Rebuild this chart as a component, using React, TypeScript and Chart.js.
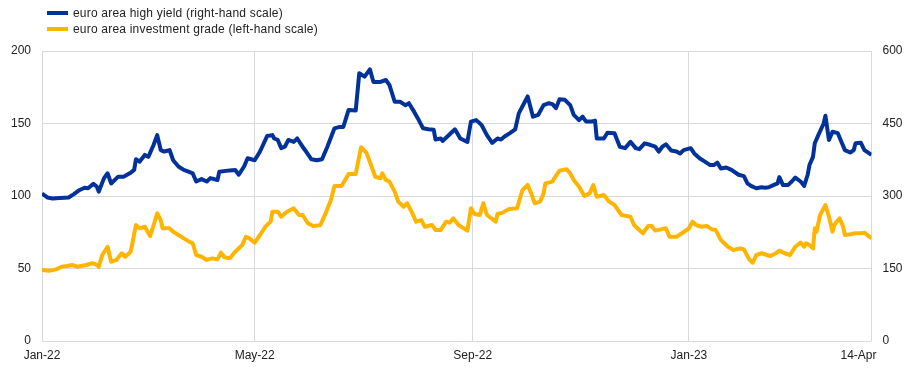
import React, { useEffect, useRef } from "react";
import { Chart, registerables } from "chart.js";

Chart.register(...registerables);

// x values: days since 1 Jan 2022
const xTickDays = [0, 120, 243, 365, 468];
const xTickLabels = ["Jan-22", "May-22", "Sep-22", "Jan-23", "14-Apr"];

const leftTicks = [0, 50, 100, 150, 200];
const rightTicks = [0, 150, 300, 450, 600];

const seriesNames = [
  "euro area high yield (right-hand scale)",
  "euro area investment grade (left-hand scale)",
];

const hyDay = [0, 3, 6, 10, 15, 18, 21, 24, 26, 29, 31, 32, 35, 37, 39, 43, 46, 50, 52, 53, 55, 58, 60, 63, 65, 67, 69, 72, 74, 77, 80, 83, 85, 87, 90, 93, 95, 99, 100, 106, 109, 111, 114, 116, 120, 123, 127, 130, 131, 133, 135, 137, 139, 142, 144, 147, 149, 152, 155, 158, 161, 165, 168, 170, 173, 177, 179, 182, 185, 187, 191, 194, 196, 199, 202, 205, 207, 210, 212, 215, 218, 221, 222, 225, 226, 229, 233, 236, 240, 242, 245, 248, 251, 254, 257, 259, 261, 264, 267, 269, 272, 274, 277, 280, 283, 286, 288, 290, 292, 295, 298, 300, 303, 305, 307, 310, 312, 313, 317, 319, 323, 326, 329, 332, 335, 337, 340, 343, 346, 348, 350, 352, 355, 358, 360, 362, 366, 368, 371, 374, 377, 379, 381, 383, 386, 389, 393, 396, 398, 400, 403, 406, 408, 410, 413, 415, 416, 418, 421, 423, 425, 428, 430, 432, 433, 435, 436, 438, 441, 442, 444, 446, 449, 451, 453, 456, 458, 459, 462, 464, 468];
const hyValue = [305, 297, 295, 296, 297, 304, 312, 317, 316, 325, 319, 309, 337, 347, 326, 340, 340, 348, 354, 376, 371, 385, 381, 406, 426, 395, 392, 395, 374, 361, 354, 350, 347, 330, 335, 330, 337, 333, 350, 353, 354, 344, 361, 378, 374, 392, 424, 426, 419, 416, 399, 402, 416, 412, 419, 402, 392, 376, 374, 376, 402, 440, 443, 443, 478, 477, 554, 547, 562, 536, 536, 540, 530, 495, 495, 488, 492, 474, 461, 440, 438, 437, 417, 419, 414, 424, 438, 419, 412, 454, 457, 447, 426, 410, 419, 417, 423, 430, 438, 471, 492, 506, 464, 468, 488, 492, 490, 482, 500, 499, 488, 468, 457, 464, 454, 454, 456, 419, 419, 431, 430, 402, 399, 412, 399, 397, 409, 406, 402, 392, 402, 407, 394, 392, 388, 395, 399, 388, 378, 371, 364, 364, 369, 357, 359, 354, 344, 341, 326, 321, 316, 318, 317, 318, 323, 326, 339, 323, 323, 330, 338, 330, 321, 344, 364, 381, 409, 426, 450, 466, 416, 433, 430, 412, 395, 390, 395, 409, 410, 395, 385];

const igDay = [0, 4, 8, 11, 14, 17, 20, 22, 25, 28, 30, 32, 34, 37, 39, 42, 45, 47, 50, 51, 53, 55, 58, 61, 63, 65, 67, 68, 72, 74, 77, 80, 83, 85, 87, 90, 93, 96, 99, 101, 103, 106, 109, 113, 115, 117, 120, 123, 126, 129, 130, 133, 135, 138, 142, 145, 147, 150, 153, 157, 160, 163, 165, 169, 173, 177, 180, 183, 186, 188, 191, 192, 194, 196, 199, 201, 204, 206, 209, 211, 214, 216, 220, 222, 225, 228, 230, 232, 235, 240, 242, 244, 247, 249, 251, 256, 257, 260, 263, 268, 271, 274, 276, 278, 281, 283, 284, 288, 289, 292, 296, 298, 300, 303, 306, 309, 311, 313, 317, 320, 323, 327, 332, 334, 337, 339, 342, 344, 346, 349, 352, 354, 358, 361, 365, 367, 369, 372, 375, 378, 380, 383, 387, 390, 394, 396, 399, 401, 403, 406, 409, 411, 414, 416, 419, 422, 425, 428, 430, 431, 433, 435, 436, 437, 439, 441, 442, 444, 446, 447, 450, 452, 453, 456, 459, 462, 464, 468];
const igValue = [49, 48.5, 49.4, 51.2, 51.7, 52.4, 51.2, 51.7, 52.4, 53.6, 53.1, 51.2, 59.3, 65, 54.7, 55.9, 60.5, 58.1, 61.6, 67.4, 80, 77.7, 78.8, 72.4, 80, 88, 83.4, 77.7, 77.7, 75.4, 73.1, 70.8, 68.5, 67.4, 59.3, 58.1, 55.9, 57, 56.3, 60.9, 57.7, 57, 61.6, 66.2, 71.9, 70.8, 67.8, 73.1, 78.8, 82.3, 89.2, 89.2, 85.7, 89, 91.5, 86.9, 86.9, 81.2, 79.3, 79.8, 88, 97.2, 106.9, 106.9, 115.2, 115.2, 133.6, 129.9, 120.2, 113.3, 112.2, 115.6, 111, 109.9, 103, 96.1, 92.6, 95, 88, 82.3, 83.4, 78.8, 80, 76.6, 76.6, 82.3, 81.6, 84.6, 80, 76.1, 91.5, 87.6, 86.9, 95, 86.9, 82.3, 87.6, 88.5, 90.8, 91.5, 104, 107.6, 101.8, 95, 96.1, 101.8, 108.7, 109.9, 112.2, 117.5, 118.4, 115.6, 111, 106.4, 100, 101.8, 107.6, 99.5, 100.7, 96.1, 93.8, 86.9, 85.7, 80, 76.6, 74.3, 79.3, 79.3, 76.1, 77, 77.7, 71.9, 71.9, 74.3, 77.7, 82.3, 80, 78.8, 79.3, 77, 76.6, 69.7, 65, 62.8, 63.9, 63.2, 56.3, 54, 59.3, 60.5, 59.3, 58.6, 60.5, 62.3, 60.5, 59.3, 65, 67.8, 65, 67.4, 66.2, 63.9, 77.7, 75.4, 86.9, 91.5, 93.8, 85.7, 75.4, 80, 84.6, 78.8, 73.1, 73.6, 74.3, 74.3, 74.7, 70.8];

const BLUE = "#003299";
const YELLOW = "#FFB400";
const GRID = "#d9d9d9";
const TEXT = "#222222";
const FONT = "Arial, 'Liberation Sans', sans-serif";

const xLabelPlugin = {
  id: "xLabels",
  afterDraw(chart: any) {
    const xs = chart.scales.x;
    const ctx = chart.ctx;
    ctx.save();
    ctx.font = `12px ${FONT}`;
    ctx.fillStyle = TEXT;
    ctx.textBaseline = "alphabetic";
    const last = xTickDays.length - 1;
    xTickDays.forEach((d, i) => {
      const px = xs.getPixelForValue(d);
      ctx.textAlign = i === last ? "right" : "center";
      ctx.fillText(xTickLabels[i], i === last ? px + 5 : px, xs.top + 18);
    });
    ctx.restore();
  },
};

export default function App() {
  const ref = useRef<HTMLCanvasElement>(null);

  useEffect(() => {
    document.body.style.margin = "0";
    const canvas = ref.current;
    if (!canvas) return;
    const chart = new Chart(canvas, {
      type: "line",
      data: {
        datasets: [
          {
            label: seriesNames[0],
            data: hyDay.map((d, i) => ({ x: d, y: hyValue[i] })),
            yAxisID: "y1",
            borderColor: BLUE,
            backgroundColor: BLUE,
            borderWidth: 4,
            pointRadius: 0,
            tension: 0,
            borderJoinStyle: "round",
          },
          {
            label: seriesNames[1],
            data: igDay.map((d, i) => ({ x: d, y: igValue[i] })),
            yAxisID: "y",
            borderColor: YELLOW,
            backgroundColor: YELLOW,
            borderWidth: 4,
            pointRadius: 0,
            tension: 0,
            borderJoinStyle: "round",
          },
        ],
      },
      options: {
        animation: false,
        responsive: false,
        maintainAspectRatio: false,
        layout: { padding: { top: 51, left: 0, right: 0, bottom: 0 } },
        plugins: { legend: { display: false }, tooltip: { enabled: false } },
        scales: {
          x: {
            type: "linear",
            min: xTickDays[0],
            max: xTickDays[xTickDays.length - 1],
            afterBuildTicks: (s: any) => {
              s.ticks = xTickDays.map((v) => ({ value: v }));
            },
            afterFit: (s: any) => {
              s.height = 27;
            },
            ticks: { display: false },
            grid: { color: GRID, lineWidth: 1, drawTicks: false },
            border: { display: false },
          },
          y: {
            position: "left",
            min: 0,
            max: 200,
            afterBuildTicks: (s: any) => {
              s.ticks = leftTicks.map((v) => ({ value: v }));
            },
            afterFit: (s: any) => {
              s.width = 42;
            },
            ticks: { padding: 11, color: TEXT, font: { family: FONT, size: 12 } },
            grid: { color: GRID, lineWidth: 1, drawTicks: false },
            border: { display: false },
          },
          y1: {
            position: "right",
            min: 0,
            max: 600,
            afterBuildTicks: (s: any) => {
              s.ticks = rightTicks.map((v) => ({ value: v }));
            },
            afterFit: (s: any) => {
              s.width = 44.5;
            },
            ticks: { padding: 11, color: TEXT, font: { family: FONT, size: 12 } },
            grid: { drawOnChartArea: false, drawTicks: false },
            border: { display: false },
          },
        },
      },
      plugins: [xLabelPlugin],
    });
    return () => chart.destroy();
  }, []);

  const legendColors = [BLUE, YELLOW];
  const legendCenters = [12.5, 29.3];

  return (
    <div style={{ position: "fixed", left: 0, top: 0, width: 916, height: 368, background: "#fff" }}>
      <canvas ref={ref} width={916} height={368} style={{ position: "absolute", left: 0, top: 0, width: 916, height: 368 }} />
      {seriesNames.map((name, i) => (
        <div key={name}>
          <div
            style={{
              position: "absolute",
              left: 47,
              top: legendCenters[i] - 2,
              width: 21,
              height: 4,
              background: legendColors[i],
            }}
          />
          <div
            style={{
              position: "absolute",
              left: 73,
              top: legendCenters[i] - 7,
              height: 14,
              lineHeight: "14px",
              fontFamily: FONT,
              fontSize: 12,
              color: TEXT,
              whiteSpace: "nowrap",
              letterSpacing: "0.2px",
            }}
          >
            {name}
          </div>
        </div>
      ))}
    </div>
  );
}
